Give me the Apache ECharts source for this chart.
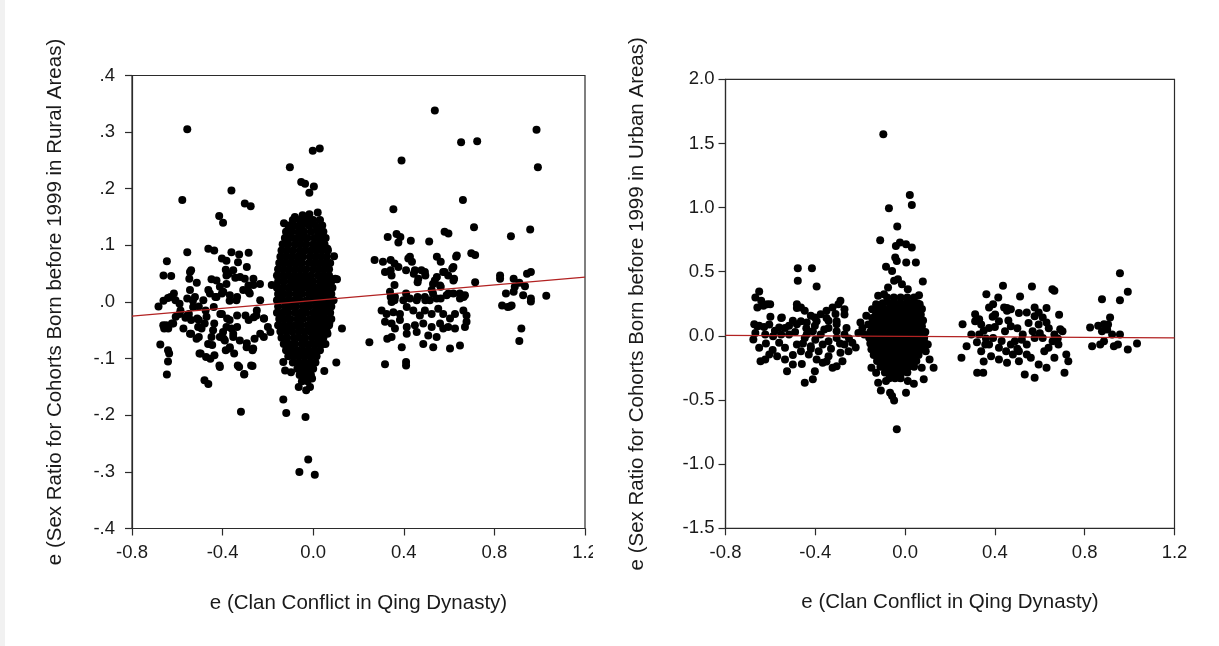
<!DOCTYPE html>
<html lang="en">
<head>
<meta charset="UTF-8">
<title>Clan conflict vs sex ratio residuals</title>
<script src="https://cdn.jsdelivr.net/npm/echarts@6/dist/echarts.min.js"></script>
<style>
  html, body { margin: 0; padding: 0; background: #fff; }
  #main { width: 1219px; height: 646px; }
</style>
</head>
<body>
<div id="main"></div>
<script>
// tick labels
var xTickLabels = ['-0.8', '-0.4', '0.0', '0.4', '0.8', '1.2'];
var ruralTickLabels = ['-.4', '-.3', '-.2', '-.1', '.0', '.1', '.2', '.3', '.4'];
var urbanTickLabels = ['-1.5', '-1.0', '-0.5', '0.0', '0.5', '1.0', '1.5', '2.0'];

var xName = 'e (Clan Conflict in Qing Dynasty)';
var ruralName = 'e (Sex Ratio for Cohorts Born before 1999 in Rural Areas)';
var urbanName = 'e (Sex Ratio for Cohorts Born before 1999 in Urban Areas)';

// fitted lines (end points)
var ruralFit = [[-0.8, -0.025], [1.2, 0.044]];
var urbanFit = [[-0.8, 0.004], [1.2, -0.016]];

// rural panel, scattered points
var ruralPoints = [
  [-0.556,0.305],[-0.578,0.18],[-0.361,0.197],[-0.302,0.174],[-0.276,0.169],[-0.415,0.152],[-0.398,0.14],
  [-0.556,0.088],[-0.646,0.072],[-0.661,0.047],[-0.627,0.046],[-0.463,0.094],[-0.437,0.091],[-0.361,0.088],[-0.327,0.084],[-0.285,0.087],
  [-0.403,0.077],[-0.383,0.073],[-0.332,0.07],[-0.293,0.062],[-0.539,0.056],[-0.547,0.041],[-0.514,0.034],[-0.449,0.04],[-0.386,0.057],
  [-0.373,0.05],[-0.344,0.043],[-0.302,0.041],[-0.264,0.03],[-0.285,0.018],[-0.615,0.015],[-0.641,0.007],[-0.661,0.002],[-0.683,-0.008],
  [-0.556,0.006],[-0.531,0.002],[-0.505,-0.008],[-0.463,0.021],[-0.432,0.009],[-0.403,0.015],[-0.369,0.002],[-0.336,0.009],
  [-0.59,-0.021],[-0.564,-0.028],[-0.539,-0.032],[-0.675,-0.075],[-0.641,-0.085],[-0.636,-0.091],[-0.641,-0.105],[-0.646,-0.128],
  [-0.649,-0.041],[-0.658,-0.047],[-0.624,-0.038],[-0.607,-0.026],[-0.556,-0.024],[-0.539,-0.056],[-0.505,-0.062],[-0.497,-0.091],
  [-0.473,-0.097],[-0.454,-0.1],[-0.48,-0.138],[-0.463,-0.145],[-0.446,-0.076],[-0.412,-0.115],[-0.395,-0.065],[-0.369,-0.082],
  [-0.349,-0.091],[-0.327,-0.115],[-0.305,-0.128],[-0.319,-0.194],[-0.268,-0.113],[-0.268,-0.085],[-0.293,-0.073],[-0.259,-0.065],
  [-0.234,-0.056],[-0.217,-0.029],[-0.251,-0.024],[-0.285,-0.032],[-0.336,-0.044],[-0.369,-0.032],[-0.403,-0.021],[-0.437,-0.038],
  [-0.471,-0.026],[-0.505,-0.032],[-0.53,-0.009],[-0.59,-0.003],[-0.573,-0.047],[-0.353,-0.062],[-0.386,-0.085],[-0.2,-0.044],
  [-0.544,0.053],[-0.427,0.038],[-0.383,0.047],[-0.353,0.056],[-0.323,0.044],[-0.286,0.029],[-0.264,0.041],[-0.235,0.032],
  [-0.63,0.009],[-0.608,0.003],[-0.586,-0.015],[-0.549,-0.021],[-0.512,-0.029],[-0.475,-0.015],[-0.439,-0.009],[-0.41,-0.021],
  [-0.38,-0.029],[-0.336,-0.024],[-0.299,-0.024],[-0.262,-0.027],[-0.218,-0.029],[-0.662,-0.041],[-0.64,-0.047],[-0.618,-0.038],
  [-0.544,-0.056],[-0.515,-0.065],[-0.493,-0.047],[-0.464,-0.074],[-0.449,-0.062],[-0.412,-0.062],[-0.383,-0.044],[-0.353,-0.056],
  [-0.324,-0.068],[-0.294,-0.08],[-0.265,-0.082],[-0.502,-0.091],[-0.436,-0.094],[-0.414,-0.112],[-0.333,-0.112],[-0.304,-0.127],
  [-0.274,-0.112],[-0.218,-0.062],[-0.189,-0.053],[-0.39,-0.068],[-0.368,-0.08],[-0.485,0.003],[-0.456,0.015],[-0.427,0.009],
  [-0.397,0.018],[-0.368,0.012],[-0.339,0.003],[-0.309,0.021],[-0.28,0.015],[-0.522,0.009],[-0.544,0.021],[-0.412,0.027],
  [-0.383,0.032],[-0.508,-0.044],[-0.479,-0.038],[-0.442,-0.05],[-0.398,-0.053],[-0.361,-0.047],[-0.249,-0.015],[-0.234,0.003],
  // around the centre
  [-0.103,0.238],[-0.002,0.267],[0.029,0.271],[-0.053,0.212],[-0.036,0.209],[0.003,0.204],[-0.017,0.193],[-0.129,0.139],
  [-0.081,0.15],[-0.047,0.153],[-0.017,0.155],[0.02,0.158],[0.063,0.094],[0.092,0.081],[0.097,0.041],[0.105,0.04],
  [-0.183,0.03],[-0.149,0.015],[0.02,0.127],[0.037,0.121],[-0.098,0.127],[-0.064,0.133],[-0.031,0.139],
  [0.127,-0.047],[0.102,-0.107],[0.049,-0.122],[-0.132,-0.106],[-0.124,-0.121],[-0.098,-0.124],[-0.132,-0.172],[-0.119,-0.196],
  [-0.034,-0.203],[-0.061,-0.3],[-0.022,-0.278],[0.007,-0.305],[-0.064,-0.15],[-0.031,-0.156],[-0.014,-0.15],[-0.039,-0.138],
  [-0.005,-0.135],[0.063,-0.056],[0.071,-0.038],[0.054,-0.074],[-0.064,-0.118],[-0.039,-0.112],[-0.014,-0.121],
  // 0.25 to 0.75
  [0.537,0.338],[0.39,0.25],[0.653,0.282],[0.724,0.284],[0.661,0.18],[0.354,0.164],[0.71,0.132],[0.58,0.124],[0.597,0.121],
  [0.329,0.115],[0.368,0.12],[0.385,0.115],[0.376,0.105],[0.431,0.108],[0.512,0.107],[0.271,0.074],[0.308,0.071],[0.342,0.074],
  [0.359,0.068],[0.427,0.08],[0.436,0.071],[0.546,0.08],[0.563,0.071],[0.631,0.08],[0.698,0.086],[0.715,0.083],[0.317,0.053],
  [0.342,0.056],[0.376,0.062],[0.41,0.056],[0.444,0.05],[0.478,0.056],[0.495,0.047],[0.546,0.044],[0.58,0.053],[0.614,0.059],
  [0.622,0.041],[0.715,0.035],[0.359,0.03],[0.461,0.035],[0.529,0.032],[0.563,0.027],[0.597,0.015],[0.647,0.015],[0.664,0.009],
  [0.342,0.009],[0.359,0.003],[0.41,0.015],[0.461,0.009],[0.495,0.003],[0.529,0.015],[0.563,0.006],[0.42,0.077],[0.634,0.082],
  [0.619,0.062],[0.346,0.047],[0.449,0.056],[0.493,0.053],[0.464,0.041],[0.574,0.053],[0.596,0.047],[0.619,0.038],[0.537,0.038],
  [0.56,0.029],[0.523,0.021],[0.339,0.018],[0.361,0.009],[0.346,0.0],[0.398,0.003],[0.427,0.006],[0.457,0.003],[0.493,0.009],
  [0.515,0.003],[0.545,0.006],[0.589,0.012],[0.619,0.015],[0.648,0.006],[0.67,0.012],[0.302,-0.015],[0.324,-0.021],[0.354,-0.018],
  [0.383,-0.021],[0.413,-0.009],[0.442,-0.015],[0.471,-0.024],[0.493,-0.015],[0.523,-0.021],[0.552,-0.012],[0.574,-0.021],
  [0.604,-0.029],[0.626,-0.021],[0.663,-0.015],[0.677,-0.024],[0.677,-0.035],[0.67,-0.044],[0.317,-0.035],[0.346,-0.038],
  [0.383,-0.032],[0.413,-0.044],[0.449,-0.041],[0.486,-0.038],[0.523,-0.044],[0.56,-0.038],[0.596,-0.044],[0.626,-0.047],
  [0.361,-0.047],[0.327,-0.065],[0.346,-0.062],[0.413,-0.056],[0.457,-0.053],[0.508,-0.059],[0.545,-0.062],[0.574,-0.047],
  [0.248,-0.071],[0.391,-0.08],[0.486,-0.074],[0.53,-0.08],[0.604,-0.082],[0.648,-0.077],[0.317,-0.11],[0.41,-0.106],[0.41,-0.112],
  // 0.8 to 1.0
  [0.986,0.304],[0.992,0.238],[0.873,0.116],[0.958,0.128],[0.825,0.047],[0.825,0.041],[0.885,0.041],[0.91,0.034],[0.944,0.05],
  [0.961,0.053],[0.851,0.015],[0.885,0.018],[0.927,0.012],[0.961,0.006],[1.029,0.011],[0.859,-0.009],[0.876,-0.006],
  [0.919,-0.047],[0.91,-0.069],[0.834,-0.006],[0.868,-0.008],[0.961,0.001],[0.89,0.027],[0.935,0.028]
];

// rural panel, dense core near zero: [y, [x...]]
var ruralCoreRows = [
  [0.145, [-0.09, -0.06, -0.03, 0.0, 0.03]],
  [0.135, [-0.11, -0.085, -0.05, -0.02, 0.01, 0.04]],
  [0.124, [-0.12, -0.095, -0.065, -0.04, -0.01, 0.02, 0.045]],
  [0.113, [-0.125, -0.1, -0.075, -0.05, -0.025, 0.005, 0.03, 0.055]],
  [0.102, [-0.135, -0.11, -0.08, -0.055, -0.03, 0.0, 0.025, 0.05]],
  [0.091, [-0.14, -0.115, -0.09, -0.06, -0.035, -0.01, 0.015, 0.04, 0.065]],
  [0.080, [-0.145, -0.12, -0.095, -0.07, -0.045, -0.015, 0.01, 0.035, 0.06]],
  [0.069, [-0.15, -0.125, -0.1, -0.075, -0.05, -0.02, 0.005, 0.03, 0.055, 0.075]],
  [0.058, [-0.155, -0.13, -0.105, -0.08, -0.055, -0.03, 0.0, 0.025, 0.05, 0.07]],
  [0.047, [-0.16, -0.135, -0.11, -0.085, -0.06, -0.035, -0.01, 0.02, 0.045, 0.07]],
  [0.036, [-0.155, -0.13, -0.1, -0.075, -0.05, -0.025, 0.0, 0.03, 0.055, 0.08]],
  [0.025, [-0.16, -0.135, -0.11, -0.085, -0.06, -0.035, -0.01, 0.015, 0.04, 0.065, 0.085]],
  [0.014, [-0.155, -0.13, -0.105, -0.075, -0.05, -0.02, 0.005, 0.03, 0.055, 0.08]],
  [0.003, [-0.16, -0.135, -0.11, -0.085, -0.06, -0.03, -0.005, 0.02, 0.045, 0.07, 0.09]],
  [-0.008, [-0.155, -0.125, -0.1, -0.075, -0.045, -0.02, 0.01, 0.035, 0.06, 0.08]],
  [-0.019, [-0.16, -0.135, -0.11, -0.08, -0.055, -0.03, 0.0, 0.025, 0.05, 0.075]],
  [-0.030, [-0.15, -0.125, -0.1, -0.07, -0.045, -0.015, 0.01, 0.035, 0.06, 0.08]],
  [-0.041, [-0.155, -0.13, -0.105, -0.08, -0.055, -0.025, 0.0, 0.025, 0.05, 0.07]],
  [-0.052, [-0.145, -0.12, -0.095, -0.065, -0.04, -0.015, 0.01, 0.035, 0.06]],
  [-0.063, [-0.14, -0.115, -0.085, -0.06, -0.035, -0.005, 0.02, 0.045]],
  [-0.074, [-0.13, -0.105, -0.08, -0.05, -0.025, 0.0, 0.025, 0.045]],
  [-0.085, [-0.12, -0.095, -0.07, -0.045, -0.02, 0.005, 0.03]],
  [-0.096, [-0.11, -0.085, -0.06, -0.035, -0.01, 0.015]],
  [-0.107, [-0.09, -0.065, -0.04, -0.015, 0.01]],
  [-0.118, [-0.07, -0.045, -0.02, 0.0]],
  [-0.129, [-0.06, -0.035, -0.01]],
  [-0.140, [-0.05, -0.025]]
];

// urban panel, scattered points
var urbanPoints = [
  [-0.65,0.345],[-0.667,0.299],[-0.641,0.273],[-0.614,0.247],[-0.658,0.221],[-0.631,0.234],[-0.601,0.247],[-0.672,0.091],
  [-0.65,0.078],[-0.628,0.07],[-0.478,0.527],[-0.478,0.429],[-0.415,0.527],[-0.394,0.384],[-0.482,0.247],[-0.464,0.221],
  [-0.447,0.195],[-0.549,0.143],[-0.42,0.156],[-0.402,0.143],[-0.376,0.169],[-0.35,0.195],[-0.323,0.221],[-0.297,0.247],
  [-0.27,0.208],[-0.288,0.273],[-0.5,0.117],[-0.482,0.091],[-0.438,0.104],[-0.402,0.078],[-0.341,0.117],[-0.305,0.091],
  [-0.561,0.065],[-0.517,0.078],[-0.676,-0.028],[-0.65,-0.093],[-0.644,-0.197],[-0.623,-0.184],[-0.658,0.075],[-0.667,0.023],
  [-0.623,0.01],[-0.605,0.088],[-0.588,-0.003],[-0.552,0.14],[-0.535,0.062],[-0.561,-0.054],[-0.605,-0.145],[-0.57,-0.158],
  [-0.535,-0.184],[-0.526,-0.275],[-0.5,-0.223],[-0.447,-0.365],[-0.411,-0.339],[-0.402,-0.275],[-0.482,0.218],[-0.464,0.114],
  [-0.438,0.01],[-0.42,-0.08],[-0.385,-0.119],[-0.367,-0.067],[-0.341,-0.041],[-0.305,-0.016],[-0.367,-0.21],[-0.323,-0.249],
  [-0.305,-0.236],[-0.279,-0.197],[-0.252,-0.119],[-0.235,-0.054],[-0.394,0.114],[-0.35,0.14],[-0.305,0.114],[-0.27,0.166],
  [-0.261,0.062],[-0.208,0.023],[-0.19,0.062],[-0.517,0.01],[-0.482,-0.067],[-0.447,-0.016],[-0.411,0.036],[-0.376,0.01],
  [-0.341,0.062],[-0.305,0.036],[-0.27,0.01],[-0.552,0.01],[-0.535,-0.093],[-0.464,-0.119],[-0.429,-0.145],[-0.394,-0.184],
  [-0.341,-0.158],[-0.288,-0.132],[-0.27,-0.067],[-0.62,-0.06],[-0.59,-0.11],[-0.5,-0.15],[-0.455,-0.06],[-0.4,-0.03],
  [-0.36,0.05],[-0.33,-0.1],[-0.29,-0.06],[-0.25,-0.02],[-0.22,-0.09],[-0.31,0.17],[-0.44,0.06],[-0.58,0.04],[-0.49,0.03],
  [-0.42,-0.1],[-0.35,-0.2],[-0.46,-0.22],[-0.6,0.15],
  // around the centre
  [-0.097,1.571],[0.021,1.099],[0.03,1.021],[-0.072,0.995],[-0.035,0.852],[-0.111,0.745],[-0.041,0.701],[-0.023,0.727],
  [0.004,0.714],[0.03,0.688],[-0.044,0.61],[-0.037,0.584],[0.048,0.571],[0.005,0.571],[-0.085,0.538],[-0.058,0.506],
  [0.079,0.423],[-0.049,0.429],[-0.032,0.442],[-0.014,0.403],[0.062,0.317],[0.065,0.247],[-0.12,0.312],[-0.094,0.325],
  [-0.076,0.377],[0.012,0.364],[-0.129,0.247],[-0.147,0.208],[-0.173,0.156],[-0.199,0.104],[-0.037,-0.728],[-0.049,-0.503],
  [-0.058,-0.469],[-0.067,-0.443],[0.004,-0.443],[0.039,-0.373],[-0.108,-0.425],[-0.12,-0.365],[-0.15,-0.249],[-0.129,-0.288],
  [0.127,-0.249],[0.109,-0.184],[0.074,-0.249],[0.092,-0.119],[0.101,-0.067],[0.083,-0.339],[-0.085,-0.352],[-0.023,-0.326],
  [0.012,-0.352],[-0.182,0.01],[-0.164,0.088],[-0.147,0.14],[-0.129,0.192],
  // 0.25 to 0.75
  [0.256,0.091],[0.312,0.169],[0.33,0.13],[0.362,0.325],[0.374,0.221],[0.392,0.247],[0.415,0.299],[0.436,0.39],[0.441,0.221],
  [0.454,0.195],[0.471,0.208],[0.512,0.307],[0.565,0.385],[0.542,0.182],[0.577,0.221],[0.595,0.182],[0.613,0.143],[0.63,0.104],
  [0.656,0.364],[0.665,0.351],[0.686,0.164],[0.691,0.052],[0.251,-0.171],[0.274,-0.08],[0.321,-0.288],[0.348,-0.288],
  [0.312,0.114],[0.33,0.01],[0.357,-0.067],[0.374,0.062],[0.392,-0.016],[0.418,0.114],[0.445,0.036],[0.471,0.075],[0.489,-0.041],
  [0.507,-0.119],[0.524,0.01],[0.542,-0.067],[0.568,0.036],[0.595,0.088],[0.613,-0.016],[0.639,-0.093],[0.665,0.01],[0.683,-0.067],
  [0.701,0.036],[0.718,-0.145],[0.727,-0.197],[0.71,-0.288],[0.454,-0.21],[0.533,-0.301],[0.577,-0.326],[0.63,-0.249],
  [0.383,-0.158],[0.418,-0.184],[0.48,-0.145],[0.507,-0.197],[0.56,-0.171],[0.595,-0.223],[0.665,-0.171],[0.339,-0.119],
  [0.374,-0.067],[0.418,-0.093],[0.471,-0.067],[0.542,-0.145],[0.577,-0.016],[0.657,-0.041],[0.295,0.01],[0.339,0.088],
  [0.401,0.166],[0.454,0.218],[0.507,0.179],[0.577,0.153],[0.63,0.218],[0.35,0.04],[0.4,0.07],[0.43,-0.04],[0.46,0.12],
  [0.5,0.06],[0.52,-0.03],[0.55,0.1],[0.6,0.02],[0.64,0.06],[0.36,-0.02],[0.32,-0.05],[0.45,-0.12],[0.62,-0.12],[0.68,-0.02],
  [0.39,0.15],[0.5,-0.1],[0.35,-0.2],
  // 0.8 to 1.05
  [0.957,0.488],[0.992,0.343],[0.957,0.278],[0.877,0.286],[0.913,0.143],[0.824,0.065],[0.86,0.078],[0.886,0.091],
  [0.877,0.036],[0.904,0.088],[0.886,-0.041],[0.93,-0.08],[0.948,-0.067],[0.992,-0.106],[1.033,-0.06],[0.833,-0.08],
  [0.869,-0.067],[0.922,0.01],[0.957,0.01],[0.9,0.05]
];

// urban panel, dense core near zero: [y, [x...]]
var urbanCoreRows = [
  [0.30, [-0.08, -0.05, -0.02, 0.01, 0.04]],
  [0.255, [-0.1, -0.07, -0.045, -0.02, 0.005, 0.03, 0.055]],
  [0.21, [-0.12, -0.095, -0.07, -0.045, -0.02, 0.005, 0.03, 0.055, 0.075]],
  [0.165, [-0.13, -0.105, -0.08, -0.055, -0.03, -0.005, 0.02, 0.045, 0.07]],
  [0.12, [-0.14, -0.115, -0.09, -0.065, -0.04, -0.015, 0.01, 0.035, 0.06, 0.08]],
  [0.075, [-0.15, -0.125, -0.1, -0.075, -0.05, -0.025, 0.0, 0.025, 0.05, 0.075]],
  [0.03, [-0.155, -0.13, -0.105, -0.08, -0.055, -0.03, -0.005, 0.02, 0.045, 0.07, 0.09]],
  [-0.015, [-0.16, -0.135, -0.11, -0.085, -0.06, -0.035, -0.01, 0.015, 0.04, 0.065, 0.085]],
  [-0.06, [-0.155, -0.13, -0.105, -0.08, -0.055, -0.03, -0.005, 0.02, 0.045, 0.07, 0.09]],
  [-0.105, [-0.15, -0.125, -0.1, -0.075, -0.05, -0.025, 0.0, 0.025, 0.05, 0.075]],
  [-0.15, [-0.14, -0.115, -0.09, -0.065, -0.04, -0.015, 0.01, 0.035, 0.06]],
  [-0.195, [-0.125, -0.1, -0.075, -0.05, -0.025, 0.0, 0.025, 0.05]],
  [-0.24, [-0.11, -0.085, -0.06, -0.035, -0.01, 0.015, 0.04]],
  [-0.285, [-0.09, -0.065, -0.04, -0.015, 0.01]],
  [-0.33, [-0.07, -0.045, -0.02]]
];

function expandRows(rows) {
  var out = [];
  rows.forEach(function (r) {
    r[1].forEach(function (x) { out.push([x, r[0]]); });
  });
  return out;
}

function tickFormatter(labels, min, step) {
  return function (v) {
    var i = Math.round((v - min) / step);
    return labels[i] !== undefined ? labels[i] : '';
  };
}

var font = 'Liberation Sans, Arial, sans-serif';
var axisColor = '#2b2b2b';
var textColor = '#1a1a1a';

function makeX(idx, gap) {
  return {
    gridIndex: idx, type: 'value', min: -0.8, max: 1.2, interval: 0.4,
    name: xName, nameLocation: 'middle', nameGap: gap,
    nameTextStyle: { fontSize: 20.5, color: textColor, fontFamily: font },
    axisLine: { show: true, onZero: false, lineStyle: { color: axisColor, width: 1.2 } },
    axisTick: { show: true, inside: false, length: 7, lineStyle: { color: axisColor, width: 1.2 } },
    axisLabel: { margin: 15, fontSize: 18.5, color: textColor, fontFamily: font,
      formatter: tickFormatter(xTickLabels, -0.8, 0.4), showMinLabel: true, showMaxLabel: true },
    splitLine: { show: false }
  };
}

function makeY(idx, min, max, step, labels, name, gap, margin) {
  return {
    gridIndex: idx, type: 'value', min: min, max: max, interval: step,
    name: name, nameLocation: 'middle', nameGap: gap,
    nameTextStyle: { fontSize: 20.5, color: textColor, fontFamily: font },
    axisLine: { show: true, onZero: false, lineStyle: { color: axisColor, width: 1.2 } },
    axisTick: { show: true, inside: false, length: 7, lineStyle: { color: axisColor, width: 1.2 } },
    axisLabel: { margin: margin, fontSize: 18.5, color: textColor, fontFamily: font,
      formatter: tickFormatter(labels, min, step), showMinLabel: true, showMaxLabel: true },
    splitLine: { show: false }
  };
}

var dot = { color: '#000', opacity: 1, borderWidth: 0 };
var myChart = echarts.init(document.getElementById('main'), null, { renderer: 'canvas' });

var option = {
  animation: false,
  backgroundColor: '#fff',
  grid: [
    { left: 132, top: 75.5, width: 453, height: 453, show: true, borderColor: axisColor, borderWidth: 1.2,
      backgroundColor: 'transparent', containLabel: false, outerBoundsMode: 'none' },
    { left: 725.5, top: 79.3, width: 449, height: 449, show: true, borderColor: axisColor, borderWidth: 1.2,
      backgroundColor: 'transparent', containLabel: false, outerBoundsMode: 'none' }
  ],
  xAxis: [makeX(0, 64), makeX(1, 64)],
  yAxis: [
    makeY(0, -0.4, 0.4, 0.1, ruralTickLabels, ruralName, 66, 17),
    makeY(1, -1.5, 2.0, 0.5, urbanTickLabels, urbanName, 78, 11)
  ],
  series: [
    { type: 'scatter', xAxisIndex: 0, yAxisIndex: 0, symbolSize: 8, itemStyle: dot, z: 1,
      emphasis: { disabled: true }, data: ruralPoints.concat(expandRows(ruralCoreRows)) },
    { type: 'line', xAxisIndex: 0, yAxisIndex: 0, data: ruralFit, symbol: 'none', z: 10,
      lineStyle: { color: '#b22222', width: 1.2 } },
    { type: 'scatter', xAxisIndex: 1, yAxisIndex: 1, symbolSize: 8, itemStyle: dot, z: 1,
      emphasis: { disabled: true }, data: urbanPoints.concat(expandRows(urbanCoreRows)) },
    { type: 'line', xAxisIndex: 1, yAxisIndex: 1, data: urbanFit, symbol: 'none', z: 10,
      lineStyle: { color: '#b22222', width: 1.2 } }
  ],
  graphic: [
    // the right picture hides part of the left "1.2"
    { type: 'rect', left: 593, top: 538, shape: { width: 28, height: 34 }, style: { fill: '#fff' }, z: 100 },
    { type: 'rect', left: 0, top: 0, shape: { width: 5, height: 646 }, style: { fill: '#f1f1f1' }, z: 100 }
  ]
};
myChart.setOption(option);
</script>
</body>
</html>
